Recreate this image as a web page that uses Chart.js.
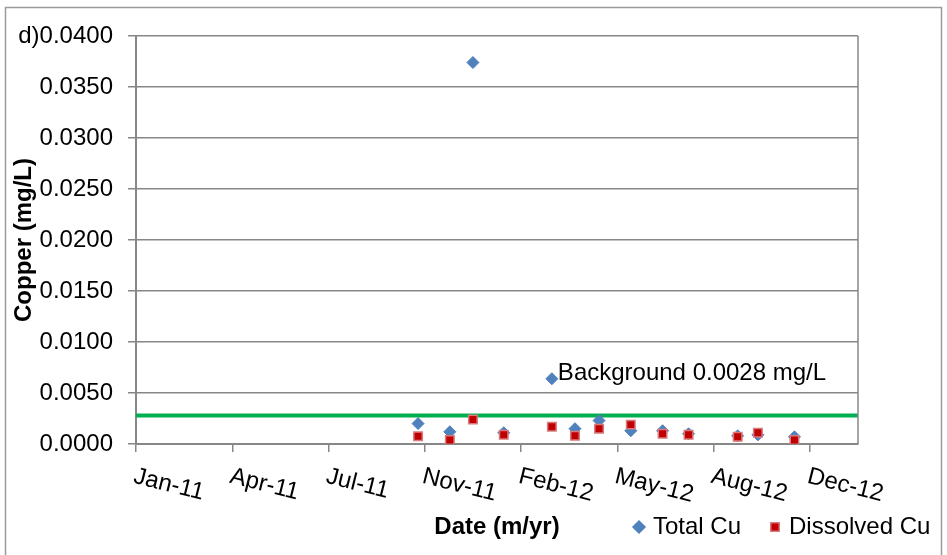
<!DOCTYPE html>
<html>
<head>
<meta charset="utf-8">
<title>Copper</title>
<script src="https://cdn.jsdelivr.net/npm/chart.js@4.4.1/dist/chart.umd.min.js"></script>
<style>
    html, body { margin: 0; padding: 0; background: #fff; }
    #wrap { width: 947px; height: 555px; }
</style>
</head>
<body>
<div id="wrap"><canvas id="copperChart" width="947" height="555"></canvas></div>
<script>
// Sampling dates and measured copper (mg/L)
const sampleDates = ['2011-10-26', '2011-11-28', '2011-12-22', '2012-01-23', '2012-03-13', '2012-04-06',
    '2012-05-01', '2012-06-03', '2012-07-06', '2012-08-02', '2012-09-22', '2012-10-13', '2012-11-20'];
const totalCu = [0.0020, 0.0012, 0.0374, 0.0011, 0.0064, 0.0015, 0.0023, 0.0013, 0.0013, 0.0010, 0.0008, 0.0009, 0.0007];
const dissolvedCu = [0.00075, 0.0004, 0.0024, 0.0009, 0.0017, 0.0008, 0.0015, 0.0019, 0.0010, 0.0009, 0.0007, 0.0011, 0.0004];

const background = 0.0028;
const backgroundNote = 'Background 0.0028 mg/L';

// Date axis: starts 6 Jan 2011, a tick every 100 days
const axisStart = '2011-01-06';
const axisDays = 750;
const tickStepDays = 100;
const xTickLabels = ['Jan-11', 'Apr-11', 'Jul-11', 'Nov-11', 'Feb-12', 'May-12', 'Aug-12', 'Dec-12'];

const FONT = "'Liberation Sans', Arial, sans-serif";
const GRID = '#878787';
const BLUE = '#4f81bd';
const RED = '#c00000';

const dayOf = d => (Date.parse(d) - Date.parse(axisStart)) / 86400000;
const toPoints = vals => vals.map((v, i) => ({ x: dayOf(sampleDates[i]), y: v }));

function drawMarker(ctx, style, x, y, r, fill, stroke) {
    ctx.beginPath();
    if (style === 'rectRot') {
        ctx.moveTo(x - r, y);
        ctx.lineTo(x, y - r);
        ctx.lineTo(x + r, y);
        ctx.lineTo(x, y + r);
    } else {
        const s = Math.SQRT1_2 * r;
        ctx.rect(x - s, y - s, 2 * s, 2 * s);
    }
    ctx.closePath();
    ctx.fillStyle = fill;
    ctx.fill();
    ctx.lineWidth = 1.5;
    ctx.strokeStyle = stroke;
    ctx.stroke();
}

const sheetDecor = {
    id: 'sheetDecor',
    beforeDraw(chart) {
        const ctx = chart.ctx;
        ctx.save();
        ctx.fillStyle = '#fff';
        ctx.fillRect(0, 0, chart.width, chart.height);
        ctx.restore();
    },
    afterDraw(chart) {
        const { ctx, chartArea: a, scales: { x, y } } = chart;
        ctx.save();

        // outer frame
        ctx.strokeStyle = '#9a9a9a';
        ctx.lineWidth = 1.5;
        ctx.strokeRect(5.5, 7.5, 936, 570);

        // right edge of the plot area
        ctx.strokeStyle = GRID;
        ctx.lineWidth = 1.5;
        ctx.beginPath();
        ctx.moveTo(a.right, a.top);
        ctx.lineTo(a.right, a.bottom);
        ctx.stroke();

        // slanted date labels
        ctx.fillStyle = '#000';
        ctx.font = '24px ' + FONT;
        ctx.textAlign = 'left';
        ctx.textBaseline = 'alphabetic';
        x.ticks.forEach((t, i) => {
            const px = x.getPixelForValue(t.value);
            ctx.save();
            ctx.translate(px + 0.5, a.bottom + 22);
            ctx.rotate(14 * Math.PI / 180);
            ctx.fillText(xTickLabels[i] || '', 0, 17);
            ctx.restore();
        });

        // note beside the high total sample
        const nx = x.getPixelForValue(dayOf(sampleDates[4]));
        const ny = y.getPixelForValue(totalCu[4]);
        ctx.fillText(backgroundNote, nx + 6, ny + 1);

        // legend
        const items = chart.data.datasets.filter(d => d.inLegend);
        let lx = 639;
        const ly = 527;
        ctx.textBaseline = 'middle';
        items.forEach(d => {
            drawMarker(ctx, d.pointStyle, lx, ly, 6, d.backgroundColor, d.borderColor);
            ctx.fillStyle = '#000';
            ctx.fillText(d.label, lx + 14, ly);
            lx += 136;
        });

        ctx.restore();
    }
};

new Chart(document.getElementById('copperChart'), {
    type: 'scatter',
    data: {
        datasets: [
            {
                label: 'Total Cu',
                inLegend: true,
                data: toPoints(totalCu),
                pointStyle: 'rectRot',
                pointRadius: 6,
                backgroundColor: BLUE,
                borderColor: BLUE,
                borderWidth: 1,
                order: 2
            },
            {
                label: 'Dissolved Cu',
                inLegend: true,
                data: toPoints(dissolvedCu),
                pointStyle: 'rect',
                pointRadius: 6,
                backgroundColor: RED,
                borderColor: '#d9797b',
                borderWidth: 1.5,
                order: 1
            },
            {
                type: 'line',
                label: 'Background',
                data: [{ x: 0, y: background }, { x: axisDays, y: background }],
                borderColor: '#00b050',
                borderWidth: 4,
                pointRadius: 0,
                order: 3
            }
        ]
    },
    options: {
        responsive: false,
        animation: false,
        layout: { padding: { top: 36, right: 89, bottom: 0, left: 0 } },
        plugins: {
            legend: { display: false },
            tooltip: { enabled: false }
        },
        scales: {
            x: {
                type: 'linear',
                min: 0,
                max: axisDays,
                afterFit: s => { s.height = 111; },
                ticks: { stepSize: tickStepDays, includeBounds: false, display: false },
                grid: { drawOnChartArea: false, drawTicks: true, tickLength: 8, color: GRID, lineWidth: 1.5 },
                border: { display: true, color: GRID, width: 2 },
                title: {
                    display: true,
                    text: 'Date (m/yr)',
                    color: '#000',
                    font: { family: FONT, size: 24, weight: 'bold' },
                    padding: { top: 0, bottom: 13.6 }
                }
            },
            y: {
                min: 0,
                max: 0.04,
                afterFit: s => { s.width = 136; },
                ticks: {
                    stepSize: 0.005,
                    padding: 15,
                    color: '#000',
                    font: { family: FONT, size: 24 },
                    callback: v => (Math.abs(v - 0.04) < 1e-9 ? 'd)' : '') + v.toFixed(4)
                },
                grid: { color: GRID, lineWidth: 1.5, tickLength: 8 },
                border: { display: true, color: GRID, width: 2 },
                title: {
                    display: true,
                    text: 'Copper (mg/L)',
                    color: '#000',
                    font: { family: FONT, size: 24, weight: 'bold' },
                    padding: { top: 10, bottom: 0 }
                }
            }
        }
    },
    plugins: [sheetDecor]
});
</script>
</body>
</html>
